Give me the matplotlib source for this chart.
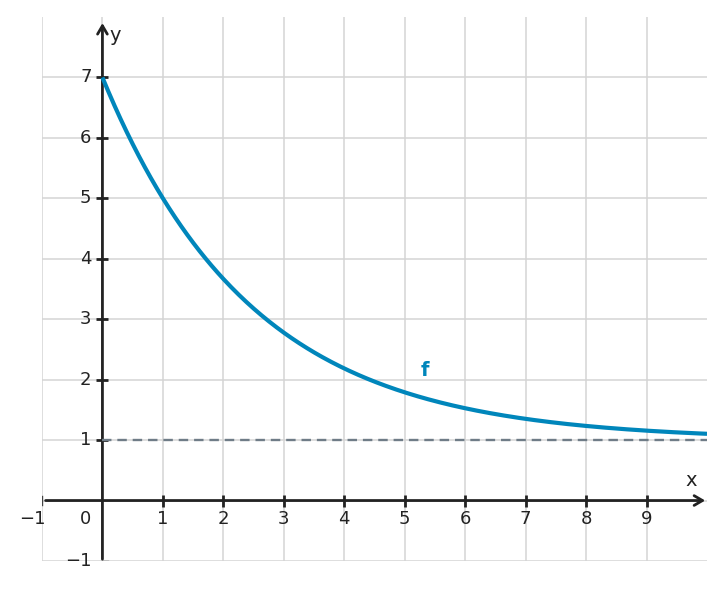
import numpy as np
import matplotlib.pyplot as plt

# values
x_ticks = [1, 2, 3, 4, 5, 6, 7, 8, 9]
y_ticks = [1, 2, 3, 4, 5, 6, 7]
f_start = 7.0      # f(0)
f_asym = 1.0       # horizontal asymptote
f_base = 2 / 3     # f(1) = 5  ->  1 + 6 * (2/3)**x

blue = '#0086bb'
dark = '#222222'

fig = plt.figure(figsize=(7.25, 5.9), dpi=100)
ax = fig.add_axes([0.0579, 0.0492, 0.9173, 0.922])
ax.set_xlim(-1, 10)
ax.set_ylim(-1, 8)

# grid
ax.set_xticks(range(-1, 10))
ax.set_yticks(range(-1, 8))
ax.grid(True, color='#d4d4d4', lw=1.1)
ax.tick_params(length=0, labelbottom=False, labelleft=False)
for s in ax.spines.values():
    s.set_visible(False)

# axes with arrows
arrow = dict(arrowstyle='->,head_length=0.6,head_width=0.35', lw=2, color=dark,
             shrinkA=0, shrinkB=0)
ax.annotate('', xy=(9.97, 0), xytext=(-0.94, 0), arrowprops=arrow)
ax.annotate('', xy=(0, 7.9), xytext=(0, -0.97), arrowprops=arrow)

# tick marks
ax.plot(x_ticks, [0] * len(x_ticks), ls='none', marker='|', ms=8, mew=2, color=dark)
ax.plot([0] * len(y_ticks), y_ticks, ls='none', marker='_', ms=8, mew=2, color=dark)
ax.plot([-1, -1], [-0.07, 0.07], lw=1, color='#444444')
ax.plot([0.0, 0.1], [-1, -1], lw=1, color='#444444')

# tick labels
fs = 13
for v in x_ticks:
    ax.text(v, -0.31, str(v), ha='center', va='center', fontsize=fs, color=dark)
for v in y_ticks:
    ax.text(-0.18, v, str(v), ha='right', va='center', fontsize=fs, color=dark)
ax.text(-1.16, -0.31, '\u22121', ha='center', va='center', fontsize=fs, color=dark)
ax.text(-0.28, -0.31, '0', ha='center', va='center', fontsize=fs, color=dark)
ax.text(-0.18, -1.0, '\u22121', ha='right', va='center', fontsize=fs, color=dark)
ax.text(0.12, 7.7, 'y', ha='left', va='center', fontsize=fs + 1, color=dark)
ax.text(9.73, 0.33, 'x', ha='center', va='center', fontsize=fs + 1, color=dark)

# asymptote
ax.plot([0, 10], [f_asym, f_asym], ls=(0, (4, 2.5)), lw=1.7, color='#6f7c87', zorder=3)

# function
xs = np.linspace(0, 10, 400)
ys = f_asym + (f_start - f_asym) * f_base ** xs
ax.plot(xs, ys, color=blue, lw=3, zorder=4, solid_capstyle='butt')
ax.text(5.33, 2.15, 'f', color=blue, fontsize=fs + 1, fontweight='bold', ha='center', va='center')

fig.savefig('out.png', dpi=100)
